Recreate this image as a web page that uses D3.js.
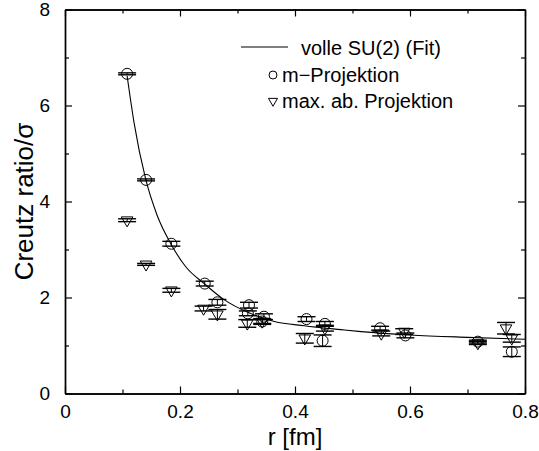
<!DOCTYPE html>
<html>
<head>
<meta charset="utf-8">
<script src="https://cdn.jsdelivr.net/npm/d3@7"></script>
<style>
  body { margin: 0; background: #fff; }
  text { font-family: "Liberation Sans", Arial, Helvetica, sans-serif; fill: #000; }
</style>
</head>
<body>
<div id="chart-area"></div>
<script>
// m-Projektion (circles)
const mR   = [0.108, 0.141, 0.185, 0.243, 0.265, 0.320, 0.318, 0.346, 0.343, 0.420, 0.452, 0.448, 0.548, 0.592, 0.718, 0.777]
const mVal = [6.66, 4.45, 3.12, 2.29, 1.90, 1.84, 1.67, 1.60, 1.50, 1.55, 1.45, 1.10, 1.36, 1.21, 1.08, 0.87]
const mErr = [0.02, 0.02, 0.05, 0.05, 0.06, 0.06, 0.05, 0.06, 0.04, 0.05, 0.05, 0.12, 0.04, 0.05, 0.03, 0.10]

// max. ab. Projektion (triangles)
const aR   = [0.108, 0.141, 0.185, 0.241, 0.265, 0.317, 0.343, 0.417, 0.452, 0.550, 0.590, 0.718, 0.767, 0.777]
const aVal = [3.61, 2.69, 2.15, 1.77, 1.65, 1.46, 1.50, 1.15, 1.36, 1.25, 1.29, 1.05, 1.36, 1.15]
const aErr = [0.03, 0.02, 0.04, 0.05, 0.10, 0.08, 0.06, 0.10, 0.06, 0.05, 0.06, 0.03, 0.12, 0.08]

// volle SU(2) fit curve
const fitR = [0.108, 0.12, 0.14, 0.16, 0.185, 0.21, 0.243, 0.276, 0.32, 0.364, 0.416, 0.48, 0.515, 0.6, 0.7, 0.8]
const fitY = [6.62, 5.65, 4.48, 3.72, 3.10, 2.64, 2.28, 1.96, 1.68, 1.50, 1.41, 1.33, 1.29, 1.22, 1.17, 1.13]

const xMajor = [0, 0.2, 0.4, 0.6, 0.8]
const xMinor = [0.1, 0.3, 0.5, 0.7]
const yMajor = [0, 2, 4, 6, 8]
const yMinor = [1, 3, 5, 7]

const legendLabels = ["volle SU(2) (Fit)", "m\u2212Projektion", "max. ab. Projektion"]

const MARGIN = {LEFT: 65, RIGHT: 14, TOP: 9.5, BOTTOM: 57.5}
const WIDTH = 539 - MARGIN.LEFT - MARGIN.RIGHT
const HEIGHT = 451 - MARGIN.TOP - MARGIN.BOTTOM

const svg = d3.select("#chart-area").append("svg")
  .attr("width", 539)
  .attr("height", 451)

const g = svg.append("g")
  .attr("transform", `translate(${MARGIN.LEFT}, ${MARGIN.TOP})`)

const x = d3.scaleLinear().domain([0, 0.8]).range([0, WIDTH])
const y = d3.scaleLinear().domain([0, 8]).range([HEIGHT, 0])

function styleAxis(sel) {
  sel.selectAll("path").attr("stroke", "#000").attr("stroke-width", 1.4)
  sel.selectAll("line").attr("stroke", "#000").attr("stroke-width", 1.2)
  sel.selectAll("text").attr("font-size", "19px").attr("fill", "#000")
    .attr("font-family", "'Liberation Sans', Arial, sans-serif")
}

// bottom
g.append("g")
  .attr("transform", `translate(0, ${HEIGHT})`)
  .call(d3.axisBottom(x).tickValues(xMajor).tickFormat(d3.format("")).tickSizeInner(-7).tickSizeOuter(0).tickPadding(11))
  .call(styleAxis)
g.append("g")
  .attr("transform", `translate(0, ${HEIGHT})`)
  .call(d3.axisBottom(x).tickValues(xMinor).tickFormat("").tickSizeInner(-4).tickSizeOuter(0))
  .call(styleAxis)
// top
g.append("g")
  .call(d3.axisTop(x).tickValues(xMajor).tickFormat("").tickSizeInner(-7).tickSizeOuter(0))
  .call(styleAxis)
g.append("g")
  .call(d3.axisTop(x).tickValues(xMinor).tickFormat("").tickSizeInner(-4).tickSizeOuter(0))
  .call(styleAxis)
// left
g.append("g")
  .call(d3.axisLeft(y).tickValues(yMajor).tickFormat(d3.format("d")).tickSizeInner(-7).tickSizeOuter(0).tickPadding(15))
  .call(styleAxis)
g.append("g")
  .call(d3.axisLeft(y).tickValues(yMinor).tickFormat("").tickSizeInner(-4).tickSizeOuter(0))
  .call(styleAxis)
// right
g.append("g")
  .attr("transform", `translate(${WIDTH}, 0)`)
  .call(d3.axisRight(y).tickValues(yMajor).tickFormat("").tickSizeInner(-7).tickSizeOuter(0))
  .call(styleAxis)
g.append("g")
  .attr("transform", `translate(${WIDTH}, 0)`)
  .call(d3.axisRight(y).tickValues(yMinor).tickFormat("").tickSizeInner(-4).tickSizeOuter(0))
  .call(styleAxis)

// X label
g.append("text")
  .attr("x", WIDTH / 2)
  .attr("y", HEIGHT + 51)
  .attr("font-size", "24px")
  .attr("text-anchor", "middle")
  .text("r [fm]")

// Y label
g.append("text")
  .attr("x", -(HEIGHT / 2))
  .attr("y", -32)
  .attr("font-size", "26px")
  .attr("text-anchor", "middle")
  .attr("transform", "rotate(-90)")
  .text("Creutz ratio/\u03c3")

// fit curve
const fitData = fitR.map((r, i) => ({r: r, v: fitY[i]}))
g.append("path")
  .datum(fitData)
  .attr("fill", "none")
  .attr("stroke", "#000")
  .attr("stroke-width", 1.1)
  .attr("d", d3.line().x(d => x(d.r)).y(d => y(d.v)).curve(d3.curveMonotoneX))

const CAP = 9

function drawErrors(data) {
  const eb = g.append("g")
  data.forEach(d => {
    eb.append("line")
      .attr("x1", x(d.r)).attr("x2", x(d.r))
      .attr("y1", y(d.v - d.e)).attr("y2", y(d.v + d.e))
      .attr("stroke", "#000").attr("stroke-width", 1)
    ;[d.v - d.e, d.v + d.e].forEach(v => {
      eb.append("line")
        .attr("x1", x(d.r) - CAP).attr("x2", x(d.r) + CAP)
        .attr("y1", y(v)).attr("y2", y(v))
        .attr("stroke", "#000").attr("stroke-width", 1.4)
    })
  })
}

const mData = mR.map((r, i) => ({r: r, v: mVal[i], e: mErr[i]}))
const aData = aR.map((r, i) => ({r: r, v: aVal[i], e: aErr[i]}))

drawErrors(mData)
drawErrors(aData)

g.append("g").selectAll("circle")
  .data(mData)
  .enter().append("circle")
  .attr("cx", d => x(d.r))
  .attr("cy", d => y(d.v))
  .attr("r", 5.5)
  .attr("fill", "none")
  .attr("stroke", "#000")
  .attr("stroke-width", 1)

const tri = d3.symbol(d3.symbolTriangle, 58)
g.append("g").selectAll("path")
  .data(aData)
  .enter().append("path")
  .attr("d", tri)
  .attr("transform", d => `translate(${x(d.r)}, ${y(d.v)}) rotate(180)`)
  .attr("fill", "none")
  .attr("stroke", "#000")
  .attr("stroke-width", 1)

// legend
const legend = svg.append("g")
legend.append("line")
  .attr("x1", 241).attr("x2", 288).attr("y1", 47).attr("y2", 47)
  .attr("stroke", "#000").attr("stroke-width", 1.1)
legend.append("text").attr("x", 301).attr("y", 55).attr("font-size", "20px").text(legendLabels[0])
legend.append("circle").attr("cx", 273).attr("cy", 75).attr("r", 4)
  .attr("fill", "none").attr("stroke", "#000").attr("stroke-width", 1)
legend.append("text").attr("x", 282).attr("y", 82).attr("font-size", "20px").text(legendLabels[1])
legend.append("path").attr("d", d3.symbol(d3.symbolTriangle, 36))
  .attr("transform", "translate(273, 101) rotate(180)")
  .attr("fill", "none").attr("stroke", "#000").attr("stroke-width", 1)
legend.append("text").attr("x", 282).attr("y", 108).attr("font-size", "20px").text(legendLabels[2])
</script>
</body>
</html>
